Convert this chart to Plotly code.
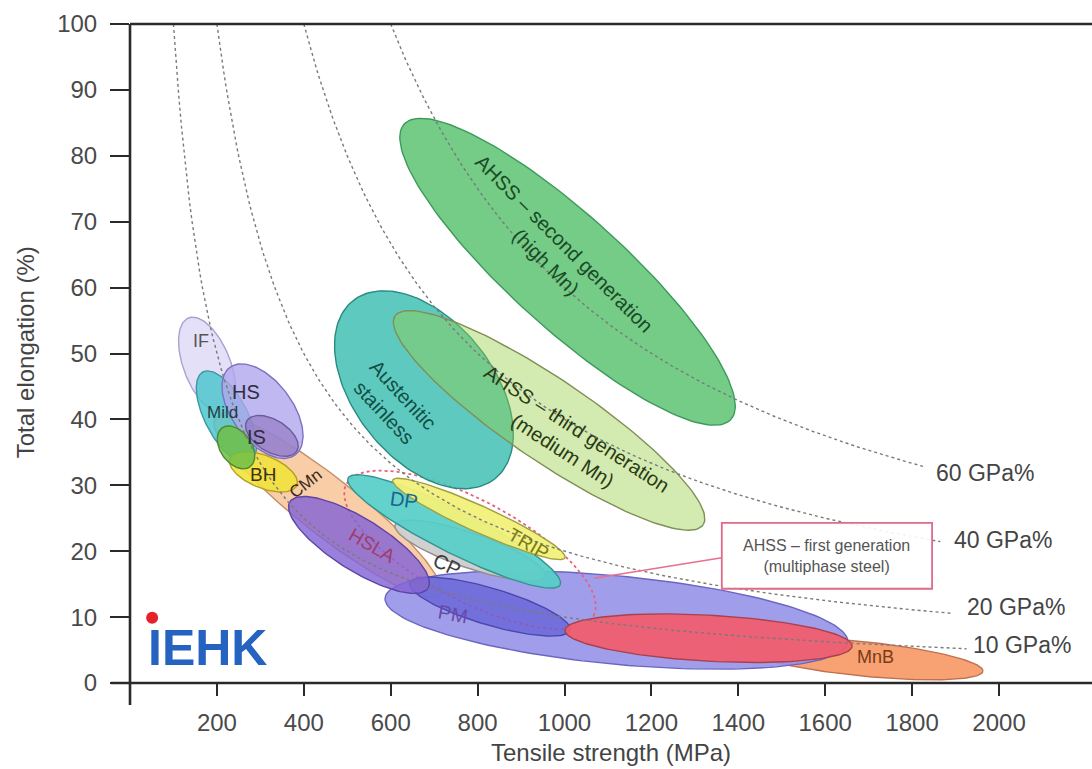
import numpy as np
import plotly.graph_objects as go

# ---- steel grade regions: ends of each ellipse's long axis (strength MPa, elongation %) ----
REGION = ["IF", "CMn", "Mild", "HS", "BH", "IS-GA", "IS", "MnB", "PM", "MS-PM", "MS", "CP", "HSLA",
          "DP", "TRIP", "Austenitic stainless", "AHSS 3rd gen", "AHSS 2nd gen"]
TS_START = [135, 196, 168, 230, 230, 212, 269, 1400, 587, 644, 1001, 610, 368, 502, 605, 513, 610, 631]
EL_START = [55.4, 40.2, 47.2, 47.9, 34.1, 38.7, 39.8, 5.6, 12.9, 15.2, 8.0, 24.0, 27.5, 31.1, 30.8, 58.0, 55.7, 84.8]
TS_END = [220, 713, 276, 380, 384, 276, 384, 1963, 1652, 1013, 1662, 955, 686, 990, 1001, 840, 1319, 1383]
EL_END = [41.0, 13.4, 33.5, 34.6, 30.0, 32.8, 35.2, 1.8, 6.2, 8.0, 5.6, 16.2, 14.4, 14.9, 19.0, 31.0, 24.0, 40.0]
WIDTH_RATIO = [0.46, 0.20, 0.42, 0.55, 0.45, 0.65, 0.55, 0.14, 0.19, 0.22, 0.16, 0.22, 0.32, 0.18, 0.14, 0.61, 0.22, 0.257]

# first-generation AHSS envelope (dashed), drawn just below these grades
FIRST_GEN_TS = [498, 1067]
FIRST_GEN_EL = [30.2, 10.2]
FIRST_GEN_RATIO = 0.357
FIRST_GEN_BELOW = "MS-PM"

# iso-lines of constant strength x elongation product
ISO_LEVEL = [10, 20, 40, 60]          # GPa%
ISO_TS_END = [1925, 1895, 1865, 1825]  # MPa where each curve stops
ISO_LABEL = ["10 GPa%", "20 GPa%", "40 GPa%", "60 GPa%"]
ISO_LABEL_TS = [1936, 1922, 1892, 1851]
ISO_LABEL_EL = [5.8, 11.5, 21.7, 31.9]

X_TICKS = [200, 400, 600, 800, 1000, 1200, 1400, 1600, 1800, 2000]
Y_TICKS = [0, 10, 20, 30, 40, 50, 60, 70, 80, 90, 100]
X_RANGE = [0, 2214]
Y_RANGE = [0, 100]

# ---- styling ----
FILL = {
    "IF": "rgba(222,218,246,0.85)", "CMn": "rgba(248,196,150,0.85)", "Mild": "rgba(80,198,206,0.85)",
    "HS": "rgba(176,166,236,0.8)", "BH": "rgba(242,226,60,0.9)", "IS-GA": "rgba(112,190,72,0.85)",
    "IS": "rgba(140,112,190,0.6)", "PM": "rgba(150,148,232,0.9)", "MnB": "rgba(248,156,106,0.95)",
    "CP": "rgba(206,206,206,0.95)", "HSLA": "rgba(132,100,214,0.82)", "MS-PM": "rgba(96,92,214,0.7)",
    "MS": "rgba(242,92,106,0.92)", "DP": "rgba(86,206,200,0.92)", "TRIP": "rgba(242,240,120,0.95)",
    "Austenitic stainless": "rgba(76,196,184,0.9)", "AHSS 3rd gen": "rgba(150,206,70,0.42)",
    "AHSS 2nd gen": "rgba(104,200,124,0.92)",
}
EDGE = {
    "IF": "#a8a2d2", "CMn": "#c08f6a", "Mild": "#3a98a0", "HS": "#7e70c2", "BH": "#b0a020",
    "IS-GA": "#4a8a30", "IS": "#6e5a9c", "PM": "#6a66c0", "MnB": "#c07050", "CP": "#909090",
    "HSLA": "#5e44a6", "MS-PM": "#4a46b0", "MS": "#a8404e", "DP": "#33948f", "TRIP": "#a0a040",
    "Austenitic stainless": "#2a8a80", "AHSS 3rd gen": "#7f8f55", "AHSS 2nd gen": "#3c9a5c",
}

W, H = 1092, 769
M_L, M_R, M_T, M_B = 130, 0, 24, 86
KX = (W - M_L - M_R) / (X_RANGE[1] - X_RANGE[0])   # px per MPa
KY = (H - M_T - M_B) / (Y_RANGE[1] - Y_RANGE[0])   # px per %


def ellipse(ts1, el1, ts2, el2, ratio, n=160):
    """Ellipse whose long axis joins two (strength, elongation) points, round on screen."""
    u1, v1, u2, v2 = ts1 * KX, el1 * KY, ts2 * KX, el2 * KY
    cu, cv = (u1 + u2) / 2, (v1 + v2) / 2
    a = np.hypot(u2 - u1, v2 - v1) / 2
    b = ratio * a
    th = np.arctan2(v2 - v1, u2 - u1)
    t = np.linspace(0, 2 * np.pi, n)
    uu = cu + a * np.cos(t) * np.cos(th) - b * np.sin(t) * np.sin(th)
    vv = cv + a * np.cos(t) * np.sin(th) + b * np.sin(t) * np.cos(th)
    return uu / KX, vv / KY


fig = go.Figure()

for name, x1, y1, x2, y2, r in zip(REGION, TS_START, EL_START, TS_END, EL_END, WIDTH_RATIO):
    if name == FIRST_GEN_BELOW:
        fx, fy = ellipse(FIRST_GEN_TS[0], FIRST_GEN_EL[0], FIRST_GEN_TS[1], FIRST_GEN_EL[1],
                         FIRST_GEN_RATIO)
        fig.add_trace(go.Scatter(x=fx, y=fy, mode="lines",
                                 line=dict(color="#e8607a", width=1.8, dash="dot"), hoverinfo="skip"))
    ex, ey = ellipse(x1, y1, x2, y2, r)
    fig.add_trace(go.Scatter(x=ex, y=ey, mode="lines", fill="toself", fillcolor=FILL[name],
                             line=dict(color=EDGE[name], width=1.4), hoverinfo="skip", name=name))

# iso-product curves
for lvl, ts_end in zip(ISO_LEVEL, ISO_TS_END):
    ts = np.linspace(lvl * 1000 / Y_RANGE[1], ts_end, 300)
    fig.add_trace(go.Scatter(x=ts, y=lvl * 1000 / ts, mode="lines",
                             line=dict(color="#7a7a7a", width=1.4, dash="dot"), hoverinfo="skip"))

# callout connector
fig.add_trace(go.Scatter(x=[1068, 1362], y=[15.9, 19.0], mode="lines",
                         line=dict(color="#e8708e", width=1.6), hoverinfo="skip"))

# logo dot
fig.add_trace(go.Scatter(x=[51], y=[9.9], mode="markers",
                         marker=dict(color="#e8202a", size=12), hoverinfo="skip"))

FONT = "Liberation Sans, Arial, sans-serif"
ann = []


def label(text, x, y, size=17, color="#333333", angle=0):
    ann.append(dict(x=x, y=y, xref="x", yref="y", text=text, showarrow=False, textangle=angle,
                    font=dict(family=FONT, size=size, color=color), xanchor="center", yanchor="middle"))


label("IF", 163, 51.9, 18, "#555555")
label("HS", 268, 44.2, 20, "#2e2e3e")
label("Mild", 214, 41.0, 17, "#1e3e40")
label("IS", 290, 37.4, 20, "#2e2e3e")
label("BH", 306, 31.6, 19, "#3a3410")
label("CMn", 405, 30.2, 17, "#3a2a1a", -38)
label("HSLA", 557, 20.8, 19, "#a03c6c", 30)
label("DP", 631, 27.8, 20, "#1a6488", 8)
label("TRIP", 916, 21.2, 19, "#7a7a1a", 30)
label("CP", 730, 17.9, 20, "#3c3c3c", 25)
label("PM", 743, 10.5, 20, "#6a4aa8", 10)
label("MnB", 1715, 3.9, 18, "#7a3a18")
label("Austenitic<br>stainless", 607, 42.3, 20, "#124e46", 47)
label("AHSS – second generation<br>(high Mn)", 978, 65.2, 20, "#1a4a26", 45)
label("AHSS – third generation<br>(medium Mn)", 1013, 36.9, 20, "#2a3a14", 33)

for txt, x, y in zip(ISO_LABEL, ISO_LABEL_TS, ISO_LABEL_EL):
    ann.append(dict(x=x, y=y, xref="x", yref="y", text=txt, showarrow=False, xanchor="left",
                    yanchor="middle", font=dict(family=FONT, size=23, color="#444444")))

# callout box
ann.append(dict(x=1604, y=19.3, xref="x", yref="y", showarrow=False,
                text="AHSS – first generation<br>(multiphase steel)",
                font=dict(family=FONT, size=16, color="#555555"), xanchor="center", yanchor="middle"))

# logo lettering
ann.append(dict(x=36, y=5.3, xref="x", yref="y", text="<b>IEHK</b>", showarrow=False,
                xanchor="left", yanchor="middle",
                font=dict(family="Liberation Sans, Arial, sans-serif", size=50, color="#2563c0")))

# axis titles
ann.append(dict(x=0.5, y=-0.106, xref="paper", yref="paper", text="Tensile strength (MPa)",
                showarrow=False, xanchor="center", yanchor="middle",
                font=dict(family=FONT, size=24, color="#444444")))
ann.append(dict(x=-0.109, y=0.502, xref="paper", yref="paper", text="Total elongation (%)",
                showarrow=False, xanchor="center", yanchor="middle", textangle=-90,
                font=dict(family=FONT, size=24, color="#444444")))

AX = "#2a2a2a"
shapes = [
    dict(type="rect", xref="x", yref="y", x0=1362, x1=1846, y0=14.3, y1=24.3,
         line=dict(color="#e06a8a", width=1.8), fillcolor="rgba(255,255,255,0.9)", layer="above"),
    dict(type="line", xref="paper", yref="paper", x0=-0.0198, x1=1, y0=0, y1=0,
         line=dict(color=AX, width=2.6)),
    dict(type="line", xref="paper", yref="paper", x0=0, x1=0, y0=-0.0334, y1=1,
         line=dict(color=AX, width=2.6)),
    dict(type="line", xref="paper", yref="paper", x0=0, x1=1, y0=1, y1=1,
         line=dict(color=AX, width=2.6)),
]

fig.update_layout(
    width=W, height=H,
    margin=dict(l=M_L, r=M_R, t=M_T, b=M_B),
    paper_bgcolor="white", plot_bgcolor="white",
    showlegend=False,
    annotations=ann, shapes=shapes,
    xaxis=dict(range=X_RANGE, tickvals=X_TICKS, ticks="outside", ticklen=12, tickwidth=2.4,
               tickcolor=AX, showgrid=False, zeroline=False, showline=False,
               tickfont=dict(family=FONT, size=24, color="#4a4a4a"), ticklabelstandoff=6,
               fixedrange=True),
    yaxis=dict(range=Y_RANGE, tickvals=Y_TICKS, ticks="outside", ticklen=19, tickwidth=2.4,
               tickcolor=AX, showgrid=False, zeroline=False, showline=False,
               tickfont=dict(family=FONT, size=24, color="#4a4a4a"), ticklabelstandoff=8,
               fixedrange=True),
)

fig.write_html("out.html")
